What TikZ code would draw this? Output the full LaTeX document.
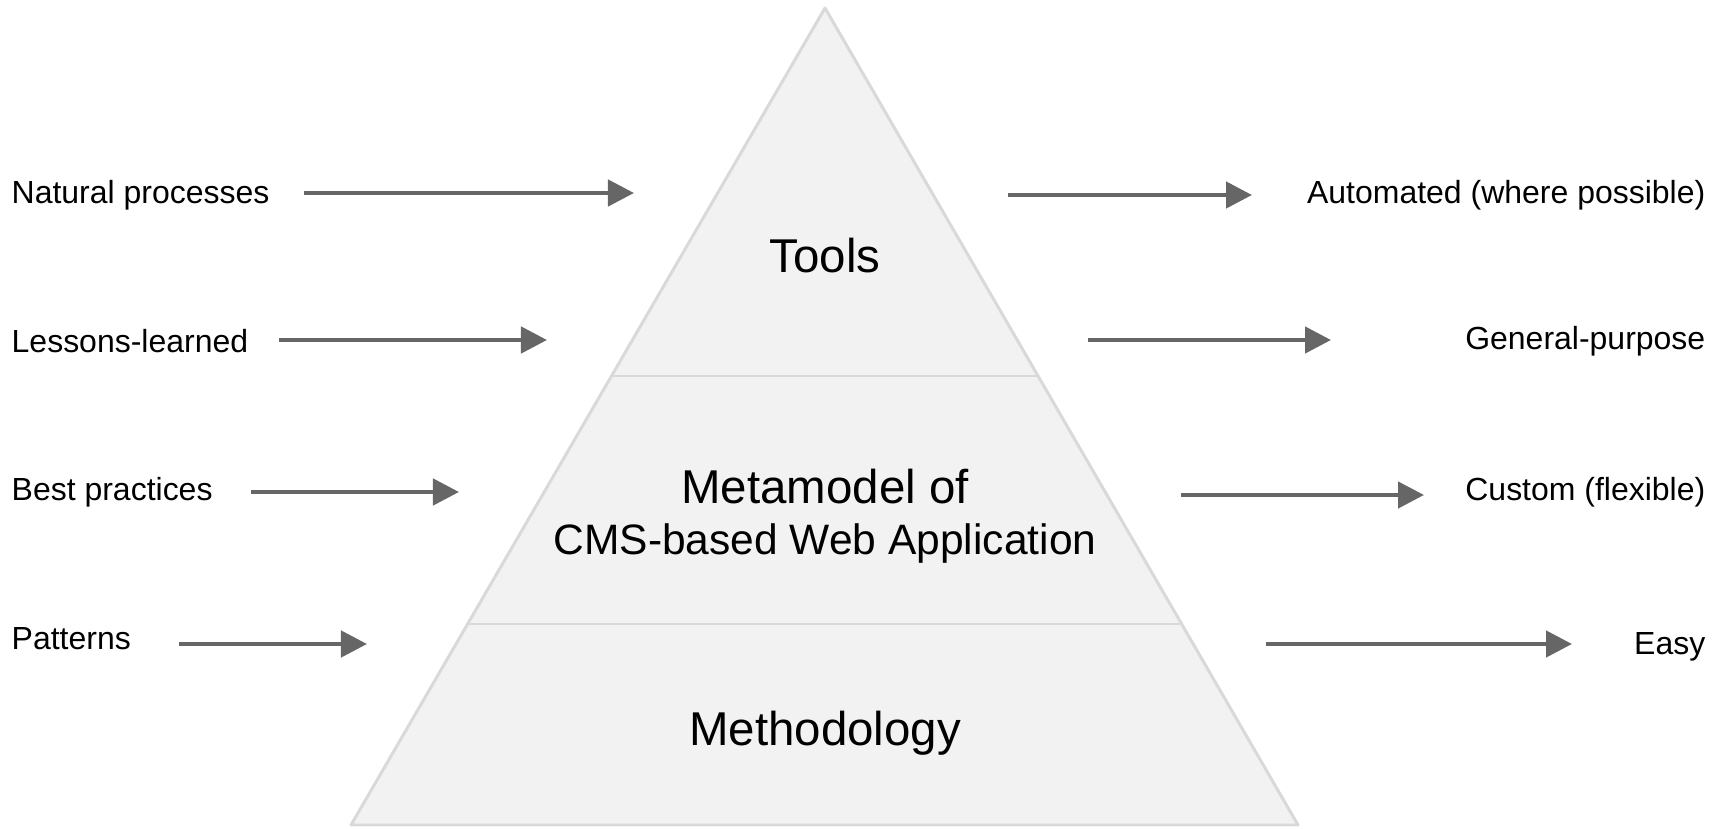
\documentclass[tikz,border=0pt]{standalone}
\usepackage{fontspec}
\setmainfont{Liberation Sans}
\usepackage{xcolor}
\usetikzlibrary{arrows.meta, calc}
\definecolor{layerfill}{HTML}{F2F2F2}
\definecolor{layerline}{HTML}{D9D9D9}
\definecolor{arrowgray}{HTML}{666666}

\begin{document}
\begin{tikzpicture}[
            side/.style={inner sep=0pt, font=\fontsize{9.1}{11}\selectfont},
            layer/.style={inner sep=0pt, font=\fontsize{13.5}{16}\selectfont},
            flow/.style={-{Triangle[length=7.4pt, width=7.4pt]}, line width=1.3pt, draw=arrowgray}]
            \useasboundingbox (0,0) rectangle (17.29,-8.29);

            % pyramid
            \coordinate (apex) at (8.25,-0.08);
            \coordinate (bl) at (3.51,-8.25);
            \coordinate (br) at (12.98,-8.25);
            \filldraw[fill=layerfill, draw=layerline, line width=0.85pt, line join=round] (apex) -- (br) -- (bl) -- cycle;
            \draw[layerline, line width=0.6pt] ($(apex)!0.4504!(bl)$) -- ($(apex)!0.4504!(br)$);
            \draw[layerline, line width=0.6pt] ($(apex)!0.754!(bl)$) -- ($(apex)!0.754!(br)$);

            \node[layer] (tools) at (8.25,-2.56) {Tools};
            \node[layer] (meta) at (8.25,-4.87) {Metamodel of};
            \node[layer, font=\fontsize{12.1}{14}\selectfont] (cms) at (8.25,-5.44) {CMS-based Web Application};
            \node[layer] (method) at (8.25,-7.33) {Methodology};

            % inputs
            \node[side, anchor=west] (natural) at (0.11,-1.95) {Natural processes};
            \node[side, anchor=west] (lessons) at (0.11,-3.41) {Lessons-learned};
            \node[side, anchor=west] (best) at (0.11,-4.92) {Best practices};
            \node[side, anchor=west] (patterns) at (0.11,-6.39) {Patterns};

            \coordinate (in1) at (3.04,-1.93);  \coordinate (to1) at (6.34,-1.93);
            \coordinate (in2) at (2.79,-3.40);  \coordinate (to2) at (5.47,-3.40);
            \coordinate (in3) at (2.51,-4.92);  \coordinate (to3) at (4.59,-4.92);
            \coordinate (in4) at (1.79,-6.44);  \coordinate (to4) at (3.67,-6.44);

            \draw[flow] (in1) -- (to1);
            \draw[flow] (in2) -- (to2);
            \draw[flow] (in3) -- (to3);
            \draw[flow] (in4) -- (to4);

            % outputs
            \node[side, anchor=east] (automated) at (17.06,-1.95) {Automated (where possible)};
            \node[side, anchor=east] (general) at (17.06,-3.41) {General-purpose};
            \node[side, anchor=east] (custom) at (17.06,-4.92) {Custom (flexible)};
            \node[side, anchor=east] (easy) at (17.06,-6.47) {Easy};

            \coordinate (out1) at (10.08,-1.95);  \coordinate (res1) at (12.52,-1.95);
            \coordinate (out2) at (10.88,-3.40);  \coordinate (res2) at (13.31,-3.40);
            \coordinate (out3) at (11.81,-4.95);  \coordinate (res3) at (14.24,-4.95);
            \coordinate (out4) at (12.66,-6.44);  \coordinate (res4) at (15.72,-6.44);

            \draw[flow] (out1) -- (res1);
            \draw[flow] (out2) -- (res2);
            \draw[flow] (out3) -- (res3);
            \draw[flow] (out4) -- (res4);
        \end{tikzpicture}
\end{document}
